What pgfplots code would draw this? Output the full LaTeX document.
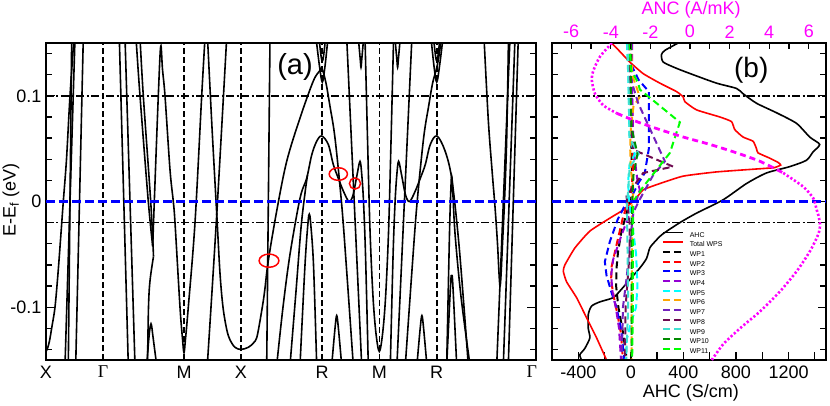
\documentclass[border=0pt]{standalone}
\usepackage{fontspec}
\setmainfont{Liberation Sans}
\newfontfamily\serifg{Liberation Serif}
\usepackage{pgfplots}
\pgfplotsset{compat=1.18}
\definecolor{gviolet}{RGB}{148,0,211}
\definecolor{gcyan}{RGB}{0,255,255}
\definecolor{gorange}{RGB}{255,165,0}
\definecolor{gindigo}{RGB}{114,33,188}
\definecolor{wpmaroon}{RGB}{110,10,80}
\definecolor{wpturq}{RGB}{64,224,208}
\definecolor{ggreenf}{RGB}{0,139,0}
\definecolor{ggreen}{RGB}{0,255,0}
\definecolor{gmag}{RGB}{255,0,255}
\definecolor{fermiblue}{RGB}{0,0,255}
\definecolor{wpred}{RGB}{255,0,0}
\definecolor{wpblue}{RGB}{0,0,255}
\pgfplotsset{
 band/.style={draw=black, line width=1.6pt, smooth, tension=0.55},
 vdash/.style={draw=black, line width=1.6pt, dash pattern=on 6pt off 3pt},
 ddot/.style={draw=black, line width=1.7pt, dash pattern=on 8pt off 2.5pt on 2pt off 2.5pt},
 bdash/.style={draw=fermiblue, line width=2.1pt, dash pattern=on 9pt off 4pt},
 wp/.style={line width=2.0pt, dash pattern=on 7pt off 4pt},
}
\newcommand{\tf}{\fontsize{18}{21}\selectfont}
\begin{document}
\begin{tikzpicture}
\useasboundingbox (0pt,0pt) rectangle (830pt,405pt);
% ---------------- panel (a)
\begin{axis}[
 at={(46pt,45pt)}, anchor=south west, width=490pt, height=317pt, scale only axis,
 xmin=0, xmax=490, ymin=-0.15, ymax=0.15,
 axis line style={line width=1.6pt},
 xtick={0,57,138,195,276,333.3,390.7,490},
 xticklabels={X,{\serifg Γ},M,X,R,M,R,{\hbox to 0pt{\hss\serifg Γ\hskip 8.6pt\hss}}},
 xtick style={draw=none},
 ytick={-0.1,0,0.1}, yticklabels={-0.1,0,0.1},
 minor ytick={-0.14,-0.12,-0.08,-0.06,-0.04,-0.02,0.02,0.04,0.06,0.08,0.12,0.14},
 major tick length=9pt, minor tick length=6pt,
 tick style={line width=1.3pt, black},
 tick label style={font=\tf},
 xticklabel style={inner sep=0pt, yshift=-6pt},
 yticklabel style={inner sep=0pt, xshift=-4.5pt},
 ylabel={E-E\textsubscript{f} (eV)},
 every axis y label/.style={at={(axis description cs:-0.0714,0.505)}, rotate=90, anchor=center, font=\tf},
]
\addplot[vdash] coordinates {(57,-0.15)(57,0.15)};
\addplot[vdash] coordinates {(138,-0.15)(138,0.15)};
\addplot[vdash] coordinates {(195,-0.15)(195,0.15)};
\addplot[vdash] coordinates {(276,-0.15)(276,0.15)};
\addplot[vdash] coordinates {(333.3,-0.15)(333.3,0.15)};
\addplot[vdash] coordinates {(390.7,-0.15)(390.7,0.15)};
\addplot[ddot] coordinates {(0,0.1)(490,0.1)};
\addplot[ddot] coordinates {(0,-0.02)(490,-0.02)};
% bands
\addplot[band] coordinates {(0,-0.142)(1.5,-0.139)(3.5,-0.132)(6,-0.118)(9,-0.1)(12,-0.068)(15,-0.03)(17.3,0)(20.5,0.04)(24,0.1)(28,0.155)};
\addplot[band] coordinates {(19,-0.155)(29,0.155)};
\addplot[band] coordinates {(22.3,-0.155)(25.7,0.155)};
\addplot[band] coordinates {(29.7,-0.155)(37.3,0.155)};
\addplot[band] coordinates {(73.3,0.155)(82.3,-0.155)};
\addplot[band] coordinates {(79,0.155)(89,-0.155)};
\addplot[band] coordinates {(90,0.155)(94,0.1)(102.3,0.0)(106.7,-0.0425)};
\addplot[band] coordinates {(106.7,-0.0425)(108.3,0.0)(112.3,0.1)(114.7,0.147)(116.5,0.125)(119,0.1)(124,0.03)(127.3,0.0)(129,-0.02)(134,-0.1)(136.5,-0.13)(138,-0.143)(139.5,-0.13)(142.3,-0.1)(149,-0.02)(155.7,0.1)(159,0.155)};
\addplot[band] coordinates {(94,0.155)(97.3,0.1)(104.7,0.0)(107.5,-0.052)};
\addplot[band] coordinates {(107.5,-0.052)(104,-0.075)(102.5,-0.1)(101.5,-0.155)};
\addplot[band] coordinates {(100.7,-0.155)(103,-0.128)(104.5,-0.117)(105.5,-0.117)(107,-0.128)(110.7,-0.155)};
\addplot[band] coordinates {(161.3,-0.155)(170.7,-0.013)(180.7,0.155)};
\addplot[band] coordinates {(161.5,0.155)(166,0.07)(170.7,-0.011)(174,-0.068)(177,-0.1)(180.7,-0.121)(184,-0.131)(189,-0.138)(195,-0.140)(202.3,-0.138)(207.3,-0.134)(210.7,-0.129)(214,-0.113)(217.3,-0.094)(219,-0.082)(222.3,-0.056)(230.7,-0.009)(240.7,0.038)(254,0.079)(267.3,0.114)(274,0.124)(276,0.126)(280,0.112)(284,0.09)(289,0.06)(295.7,-0.003)(300.7,-0.066)(307.3,-0.155)};
\addplot[band] coordinates {(224,0.155)(220.7,-0.155)};
\addplot[band] coordinates {(230.7,-0.155)(237,-0.1)(244,-0.05)(254,0.003)(260.7,0.022)(265.7,0.044)(270.7,0.057)(275.7,0.062)(282.3,0.054)(287.3,0.035)(292.3,0.022)(297.3,0.010)(303,0.0)(307,0.006)(311,0.025)(314,0.038)(315.8,0.025)(317.5,0.0)(319.5,-0.05)(322.3,-0.155)};
\addplot[band] coordinates {(244,-0.155)(250,-0.085)(255,-0.025)(259,0.008)(261.5,0.025)};
\addplot[band] coordinates {(254,-0.155)(259,-0.06)(262,-0.02)(263.3,-0.012)(264.6,-0.02)(267.5,-0.06)(270.7,-0.155)};
\addplot[band] coordinates {(285.7,-0.155)(289,-0.12)(290.7,-0.108)(292.4,-0.12)(295.7,-0.155)};
\addplot[band] coordinates {(270,0.155)(273.5,0.128)(276.3,0.113)(279,0.128)(282,0.155)};
\addplot[band] coordinates {(273,0.155)(275,0.138)(276.3,0.133)(277.6,0.138)(279.6,0.155)};
\addplot[band] coordinates {(312.3,0.155)(314.2,0.135)(315,0.127)(315.8,0.135)(317.7,0.155)};
\addplot[band] coordinates {(300.7,0.155)(315.7,-0.155)};
\addplot[band] coordinates {(319,0.155)(321.5,0.06)(324,-0.027)(327,-0.09)(330,-0.125)(333.3,-0.142)(336.6,-0.125)(339.6,-0.09)(342.6,-0.027)(345.1,0.06)(347.6,0.155)};
\addplot[band] coordinates {(359.3,-0.155)(365.9,-0.066)(370.9,-0.003)(377.6,0.06)(382.6,0.09)(386.6,0.112)(390.6,0.126)(393,0.138)(395.5,0.155)};
\addplot[band] coordinates {(344.3,-0.155)(347.1,-0.05)(349.1,0.0)(350.8,0.025)(352.6,0.038)(355.6,0.025)(359.6,0.006)(363.6,0.0)(369.3,0.010)(374.3,0.022)(379.3,0.035)(384.3,0.054)(390.9,0.062)(399,0.048)(405.7,0.022)(412.3,-0.034)(418,-0.1)(422.3,-0.155)};
\addplot[band] coordinates {(370.9,-0.155)(374.2,-0.12)(375.9,-0.108)(377.6,-0.12)(380.9,-0.155)};
\addplot[band] coordinates {(348.9,0.155)(350.8,0.135)(351.6,0.127)(352.4,0.135)(354.3,0.155)};
\addplot[band] coordinates {(365.9,0.155)(350.9,-0.155)};
\addplot[band] coordinates {(385,0.155)(388,0.128)(390.7,0.113)(393.5,0.128)(397,0.155)};
\addplot[band] coordinates {(387.5,0.155)(389.5,0.138)(390.7,0.133)(392,0.138)(394,0.155)};
\addplot[band] coordinates {(400.7,-0.155)(403.5,-0.03)(405,0.015)(405.7,0.024)(406.5,0.015)(409,-0.03)(415,-0.09)(424,-0.155)};
\addplot[band] coordinates {(400.7,-0.155)(404.5,-0.08)(405.7,-0.07)(406.9,-0.08)(410.7,-0.155)};
\addplot[band] coordinates {(438,0.155)(442.3,0.077)(446,0.03)(449,-0.005)(451.5,-0.04)(453,-0.068)(454,-0.08)(455,-0.07)(456.5,-0.04)(458.5,0.0)(460.7,0.06)(462.5,0.155)};
\addplot[band] coordinates {(464,0.155)(450.7,-0.155)};
\addplot[band] coordinates {(469,0.155)(457.3,-0.155)};
\addplot[band] coordinates {(472.3,0.155)(462.3,-0.155)};
\addplot[bdash] coordinates {(0,0)(490,0)};
% red ellipses
\addplot[only marks, mark=o, mark size=6.3pt, mark options={draw=wpred, line width=1.5pt, xscale=1.45}] coordinates {(292.3,0.026)};
\addplot[only marks, mark=o, mark size=5.6pt, mark options={draw=wpred, line width=1.5pt}] coordinates {(309,0.017)};
\addplot[only marks, mark=o, mark size=6.6pt, mark options={draw=wpred, line width=1.5pt, xscale=1.5}] coordinates {(223,-0.056)};
\node[font=\fontsize{29}{32}\selectfont] at (axis cs:249,0.127) {(a)};
\end{axis}
% ---------------- panel (b), AHC axis
\begin{axis}[
 at={(552pt,45pt)}, anchor=south west, width=274pt, height=317pt, scale only axis,
 xmin=-600, xmax=1485, ymin=-0.15, ymax=0.15,
 axis line style={line width=1.6pt},
 xtick={-400,-200,...,1400},
 xticklabels={-400,,0,,400,,800,,1200,},
 xtick pos=left, xticklabel pos=left,
 ytick={-0.1,0,0.1}, yticklabels={},
 minor ytick={-0.14,-0.12,-0.08,-0.06,-0.04,-0.02,0.02,0.04,0.06,0.08,0.12,0.14},
 major tick length=8pt, minor tick length=6pt,
 tick style={line width=1.3pt, black},
 tick label style={font=\tf},
 xticklabel style={inner sep=0pt, yshift=-6pt},
 xlabel={AHC (S/cm)},
 every axis x label/.style={at={(axis description cs:0.507,-0.104)}, anchor=center, font=\tf},
 legend style={at={(axis description cs:0.400,0.410)}, anchor=north west, draw=none, fill=none,
   inner sep=0pt, row sep=0pt, column sep=3pt,
   font=\fontsize{7}{8}\selectfont,
   nodes={inner xsep=3pt, inner ysep=1.6pt, text height=5.2pt, text depth=1.3pt, anchor=west}},
 legend cell align=left,
 legend image code/.code={\draw[#1] (0pt,2.6pt) -- (20pt,2.6pt);},
]
\addplot[ddot, forget plot] coordinates {(-600,0.1)(1485,0.1)};
\addplot[ddot, forget plot] coordinates {(-600,-0.02)(1485,-0.02)};
\addplot[draw=black, line width=1.6pt, smooth, tension=0.4] coordinates {(360,0.15)(259,0.143)(233,0.139)(246,0.132)(348,0.126)(474,0.12)(652,0.112)(804,0.107)(854,0.102)(956,0.093)(1108,0.084)(1260,0.074)(1361,0.061)(1437,0.054)(1387,0.047)(1336,0.039)(1209,0.033)(1032,0.027)(880,0.017)(702,0.0016)(500,-0.011)(373,-0.020)(240,-0.031)(183,-0.038)(144,-0.044)(119,-0.054)(68,-0.063)(5,-0.072)(-71,-0.083)(-135,-0.091)(-236,-0.095)(-299,-0.099)(-324,-0.107)(-324,-0.120)(-312,-0.129)(-350,-0.139)(-388,-0.145)(-375,-0.15)};
\addlegendentry{AHC}
\addplot[draw=wpred, line width=1.6pt, smooth, tension=0.3] coordinates {(-147,0.15)(-84,0.142)(-8,0.132)(94,0.121)(221,0.112)(348,0.104)(398,0.099)(411,0.0945)(500,0.0867)(677,0.080)(766,0.0756)(791,0.068)(854,0.061)(930,0.057)(956,0.050)(968,0.046)(1057,0.041)(1120,0.037)(1140,0.0345)(1090,0.032)(1006,0.0312)(652,0.028)(398,0.024)(221,0.017)(94,0.011)(30,0.0016)(-58,-0.008)(-150,-0.015)(-312,-0.028)(-426,-0.044)(-502,-0.06)(-514,-0.066)(-489,-0.076)(-413,-0.091)(-337,-0.110)(-261,-0.129)(-185,-0.15)};
\addlegendentry{Total WPS}
\addplot[wp, draw=black] coordinates {(-10,0.15)(-5,0.12)(0,0.08)(5,0.05)(10,0.02)(0,0.005)(-30,-0.01)(-71,-0.028)(-97,-0.047)(-109,-0.063)(-112,-0.08)(-95,-0.1)(-65,-0.12)(-30,-0.15)};
\addlegendentry{WP1}
\addplot[wp, draw=wpred] coordinates {(0,0.15)(5,0.12)(10,0.09)(15,0.06)(15,0.03)(5,0.01)(-20,0.0)(-60,-0.015)(-109,-0.041)(-147,-0.062)(-150,-0.075)(-130,-0.09)(-100,-0.108)(-75,-0.125)(-60,-0.15)};
\addlegendentry{WP2}
\addplot[wp, draw=wpblue] coordinates {(-20,0.15)(0,0.13)(60,0.115)(137,0.104)(137,0.05)(106,0.027)(60,0.018)(20,0.008)(-30,0.0)(-100,-0.017)(-160,-0.038)(-198,-0.057)(-185,-0.07)(-150,-0.085)(-110,-0.1)(-75,-0.12)(-50,-0.15)};
\addlegendentry{WP3}
\addplot[wp, draw=gviolet] coordinates {(10,0.15)(10,0.1)(20,0.05)(50,0.02)(68,0.011)(40,0.0)(-20,-0.015)(-80,-0.035)(-135,-0.055)(-150,-0.07)(-140,-0.085)(-115,-0.1)(-90,-0.12)(-75,-0.15)};
\addlegendentry{WP4}
\addplot[wp, draw=gcyan] coordinates {(-30,0.15)(-20,0.12)(-15,0.09)(-10,0.06)(30,0.045)(-10,0.035)(-20,0.02)(-15,0.0)(10,-0.02)(40,-0.05)(50,-0.08)(40,-0.1)(0,-0.115)(-30,-0.13)(-40,-0.15)};
\addlegendentry{WP5}
\addplot[wp, draw=gorange] coordinates {(0,0.15)(10,0.12)(68,0.099)(20,0.09)(0,0.07)(-5,0.05)(0,0.03)(20,0.01)(10,0.0)(10,-0.05)(5,-0.1)(5,-0.15)};
\addlegendentry{WP6}
\addplot[wp, draw=gindigo] coordinates {(-20,0.15)(-10,0.12)(56,0.093)(259,0.038)(170,0.025)(68,0.002)(20,-0.01)(0,-0.03)(-30,-0.07)(-60,-0.1)(-70,-0.15)};
\addlegendentry{WP7}
\addplot[wp, draw=wpmaroon] coordinates {(-10,0.15)(-5,0.1)(10,0.06)(18,0.049)(322,0.033)(94,0.027)(-33,0.005)(-10,-0.02)(-10,-0.05)(-40,-0.1)(-45,-0.15)};
\addlegendentry{WP8}
\addplot[wp, draw=wpturq] coordinates {(-25,0.15)(-15,0.1)(-10,0.06)(60,0.045)(-10,0.032)(-20,0.01)(-30,0.0)(-25,-0.05)(-20,-0.1)(-30,-0.13)(-35,-0.15)};
\addlegendentry{WP9}
\addplot[wp, draw=ggreenf] coordinates {(0,0.15)(0,0.1)(5,0.07)(50,0.045)(20,0.025)(10,0.0)(5,-0.05)(5,-0.1)(5,-0.15)};
\addlegendentry{WP10}
\addplot[wp, draw=ggreen] coordinates {(-10,0.15)(0,0.125)(56,0.112)(68,0.106)(373,0.075)(297,0.046)(196,0.030)(94,0.014)(18,0.0)(15,-0.05)(15,-0.1)(10,-0.15)};
\addlegendentry{WP11}
\addplot[bdash, forget plot] coordinates {(-600,0)(1485,0)};
\node[font=\fontsize{28}{31}\selectfont] at (axis cs:916,0.1245) {(b)};
\end{axis}
% ---------------- panel (b), ANC axis (top)
\begin{axis}[
 at={(552pt,45pt)}, anchor=south west, width=274pt, height=317pt, scale only axis,
 xmin=-6.97, xmax=6.87, ymin=-0.15, ymax=0.15,
 hide y axis,
 axis line style={line width=1.6pt},
 xtick={-6,-4,...,6}, xticklabels={-6,-4,-2,0,2,4,6},
 minor xtick={-5,-3,-1,1,3,5},
 xtick pos=right, xticklabel pos=right,
 major tick length=6pt, minor tick length=6pt,
 tick style={line width=1.3pt, black},
 tick label style={font=\tf, text=gmag},
 xticklabel style={inner sep=0pt, yshift=4.7pt},
 xlabel={ANC (A/mK)},
 every axis x label/.style={at={(axis description cs:0.508,1.104)}, anchor=center, font=\tf, text=gmag},
]
\addplot[draw=gmag, line width=2.6pt, dash pattern=on 2.2pt off 2.1pt, smooth, tension=0.4] coordinates {(-3.95,0.15)(-4.55,0.137)(-4.88,0.124)(-4.96,0.115)(-4.8,0.102)(-4.38,0.091)(-3.7,0.0835)};
\addplot[draw=gmag, line width=2.8pt, dash pattern=on 6pt off 4pt, smooth, tension=0.4] coordinates {(-3.7,0.0835)(-2.69,0.0756)(-1.68,0.069)(-0.34,0.061)(1.01,0.054)(2.36,0.046)(3.54,0.038)(4.71,0.027)};
\addplot[draw=gmag, line width=2.6pt, dash pattern=on 2.2pt off 2.1pt, smooth, tension=0.4] coordinates {(4.71,0.027)(5.72,0.014)(6.23,0.003)(6.4,-0.008)(6.48,-0.0126)(6.57,-0.022)(6.48,-0.031)(6.06,-0.047)(5.39,-0.066)(4.55,-0.085)(3.54,-0.104)(2.53,-0.12)(1.68,-0.135)(1.1,-0.15)};
\end{axis}
\end{tikzpicture}
\end{document}
